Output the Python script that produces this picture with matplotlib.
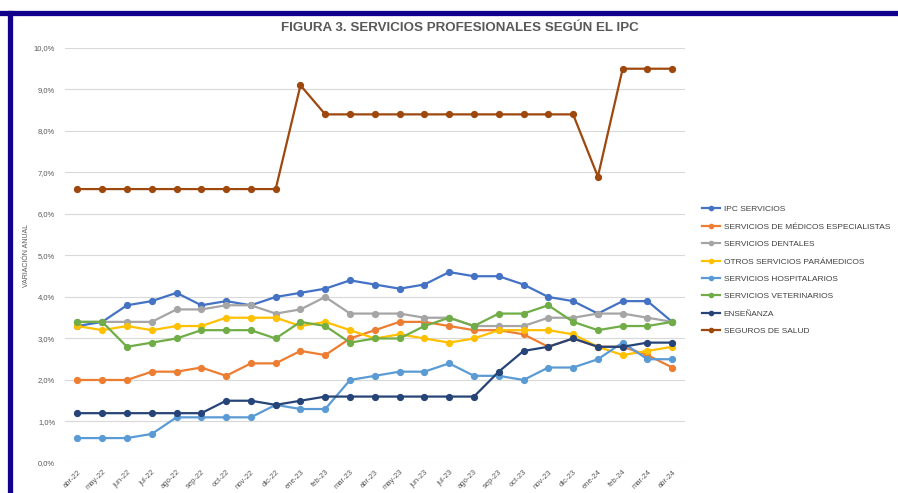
import matplotlib.pyplot as plt
from matplotlib.lines import Line2D
from matplotlib.ticker import FuncFormatter

plt.rcParams['font.family'] = ['Liberation Sans', 'DejaVu Sans']

months = ['abr-22', 'may-22', 'jun-22', 'jul-22', 'ago-22', 'sep-22', 'oct-22',
          'nov-22', 'dic-22', 'ene-23', 'feb-23', 'mar-23', 'abr-23', 'may-23',
          'jun-23', 'jul-23', 'ago-23', 'sep-23', 'oct-23', 'nov-23', 'dic-23',
          'ene-24', 'feb-24', 'mar-24', 'abr-24']

ipc_servicios = [3.3, 3.4, 3.8, 3.9, 4.1, 3.8, 3.9, 3.8, 4.0, 4.1, 4.2, 4.4, 4.3,
                 4.2, 4.3, 4.6, 4.5, 4.5, 4.3, 4.0, 3.9, 3.6, 3.9, 3.9, 3.4]
medicos = [2.0, 2.0, 2.0, 2.2, 2.2, 2.3, 2.1, 2.4, 2.4, 2.7, 2.6, 3.0, 3.2,
           3.4, 3.4, 3.3, 3.2, 3.2, 3.1, 2.8, 3.0, 2.8, 2.8, 2.6, 2.3]
dentales = [3.4, 3.4, 3.4, 3.4, 3.7, 3.7, 3.8, 3.8, 3.6, 3.7, 4.0, 3.6, 3.6,
            3.6, 3.5, 3.5, 3.3, 3.3, 3.3, 3.5, 3.5, 3.6, 3.6, 3.5, 3.4]
paramedicos = [3.3, 3.2, 3.3, 3.2, 3.3, 3.3, 3.5, 3.5, 3.5, 3.3, 3.4, 3.2, 3.0,
               3.1, 3.0, 2.9, 3.0, 3.2, 3.2, 3.2, 3.1, 2.8, 2.6, 2.7, 2.8]
hospitalarios = [0.6, 0.6, 0.6, 0.7, 1.1, 1.1, 1.1, 1.1, 1.4, 1.3, 1.3, 2.0, 2.1,
                 2.2, 2.2, 2.4, 2.1, 2.1, 2.0, 2.3, 2.3, 2.5, 2.9, 2.5, 2.5]
veterinarios = [3.4, 3.4, 2.8, 2.9, 3.0, 3.2, 3.2, 3.2, 3.0, 3.4, 3.3, 2.9, 3.0,
                3.0, 3.3, 3.5, 3.3, 3.6, 3.6, 3.8, 3.4, 3.2, 3.3, 3.3, 3.4]
ensenanza = [1.2, 1.2, 1.2, 1.2, 1.2, 1.2, 1.5, 1.5, 1.4, 1.5, 1.6, 1.6, 1.6,
             1.6, 1.6, 1.6, 1.6, 2.2, 2.7, 2.8, 3.0, 2.8, 2.8, 2.9, 2.9]
seguros = [6.6, 6.6, 6.6, 6.6, 6.6, 6.6, 6.6, 6.6, 6.6, 9.1, 8.4, 8.4, 8.4,
           8.4, 8.4, 8.4, 8.4, 8.4, 8.4, 8.4, 8.4, 6.9, 9.5, 9.5, 9.5]

series = [
    ('IPC SERVICIOS', ipc_servicios, '#4472C4'),
    ('SERVICIOS DE MÉDICOS ESPECIALISTAS', medicos, '#ED7D31'),
    ('SERVICIOS DENTALES', dentales, '#A5A5A5'),
    ('OTROS SERVICIOS PARÁMEDICOS', paramedicos, '#FFC000'),
    ('SERVICIOS HOSPITALARIOS', hospitalarios, '#5B9BD5'),
    ('SERVICIOS VETERINARIOS', veterinarios, '#70AD47'),
    ('ENSEÑANZA', ensenanza, '#264478'),
    ('SEGUROS DE SALUD', seguros, '#9E480E'),
]

fig = plt.figure(figsize=(8.98, 4.93), dpi=100)
ax = fig.add_axes([0.0724, 0.0609, 0.690, 0.8418])

x = list(range(len(months)))
handles = []
for name, vals, color in series:
    ax.plot(x, vals, color=color, linewidth=1.6, marker='o', markersize=4.2,
            zorder=3)
    handles.append(Line2D([0], [0], color=color, linewidth=1.6, marker='o',
                          markersize=3, label=name))

ax.set_xlim(-0.5, len(months) - 0.5)
ax.set_ylim(0, 10)
ax.set_yticks([i for i in range(11)])
ax.yaxis.set_major_formatter(FuncFormatter(lambda v, p: f'{v:.1f}%'.replace('.', ',')))
ax.set_xticks(x)
ax.set_xticklabels(months, rotation=45, ha='right', rotation_mode='anchor')
ax.tick_params(axis='both', length=0, labelsize=5.5, labelcolor='#595959')
ax.tick_params(axis='y', pad=7)
ax.tick_params(axis='x', pad=4)
ax.grid(axis='y', color='#D9D9D9', linewidth=0.8)
ax.set_axisbelow(True)
for s in ax.spines.values():
    s.set_visible(False)
ax.set_ylabel('VARIACIÓN ANUAL', fontsize=5, color='#595959', labelpad=3)

fig.text(0.512, 0.943, 'FIGURA 3. SERVICIOS PROFESIONALES SEGÚN EL IPC',
         ha='center', va='center', fontsize=9.6, fontweight='bold',
         color='#595959')

fig.legend(handles=handles, loc='upper left', bbox_to_anchor=(0.778, 0.59),
           frameon=False, fontsize=6, labelcolor='#404040', handlelength=2.2,
           handletextpad=0.4, labelspacing=1.15, borderaxespad=0)

# marco azul de la figura
fig.add_artist(Line2D([0.0, 1.0], [0.973, 0.973], color='#10008A',
                      linewidth=3.8, transform=fig.transFigure))
fig.add_artist(Line2D([0.0106, 0.0106], [0.0, 0.973], color='#10008A',
                      linewidth=3.8, transform=fig.transFigure))

fig.savefig('out.png', dpi=100)
